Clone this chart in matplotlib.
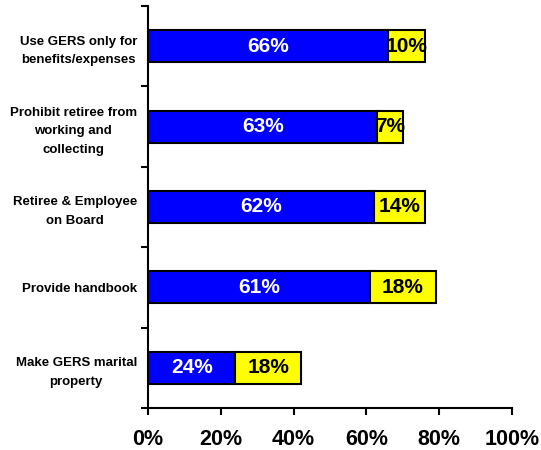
import matplotlib
matplotlib.use("Agg")
import matplotlib.pyplot as plt
import numpy as np

categories = ["Use GERS only for\nbenefits/expenses",
              "Prohibit retiree from\nworking and\ncollecting",
              "Retiree & Employee\non Board",
              "Provide handbook",
              "Make GERS marital\nproperty"]
blue_vals = [66, 63, 62, 61, 24]
yellow_vals = [10, 7, 14, 18, 18]
xticks = [0, 20, 40, 60, 80, 100]
xtick_labels = ["0%", "20%", "40%", "60%", "80%", "100%"]

plt.rcParams['font.family'] = ['Liberation Sans', 'DejaVu Sans']

fig = plt.figure(figsize=(5.41, 4.5), dpi=100)
ax = fig.add_axes([148/541, 42/450, 364/541, 402/450])

y = np.arange(len(categories))
ax.barh(y, blue_vals, height=0.4, color='#0000FF', edgecolor='black', linewidth=1.5)
ax.barh(y, yellow_vals, left=blue_vals, height=0.4, color='#FFFF00', edgecolor='black', linewidth=1.5)

for i in range(len(categories)):
    ax.text(blue_vals[i] / 2, y[i], f"{blue_vals[i]}%", ha='center', va='center',
            color='white', fontsize=15, fontweight='bold')
    ax.text(blue_vals[i] + yellow_vals[i] / 2, y[i], f"{yellow_vals[i]}%", ha='center', va='center',
            color='black', fontsize=15, fontweight='bold')

ax.set_xlim(0, 100)
ax.set_ylim(len(categories) - 0.5, -0.5)

ax.set_xticks(xticks)
ax.set_xticklabels(xtick_labels, fontsize=15.5, fontweight='bold')
ax.tick_params(axis='x', direction='out', length=5, width=1.5, pad=10)

ax.set_yticks(np.arange(len(categories) + 1) - 0.5)
ax.set_yticklabels([])
ax.tick_params(axis='y', which='major', direction='out', length=5, width=1.5)
ax.set_yticks(y, minor=True)
ax.set_yticklabels(categories, minor=True, fontsize=9.5, fontweight='bold',
                   multialignment='center', linespacing=1.75)
ax.tick_params(axis='y', which='minor', length=0, pad=8)

for s in ['top', 'right']:
    ax.spines[s].set_visible(False)
for s in ['left', 'bottom']:
    ax.spines[s].set_linewidth(1.5)

fig.savefig("out.png", dpi=100)
